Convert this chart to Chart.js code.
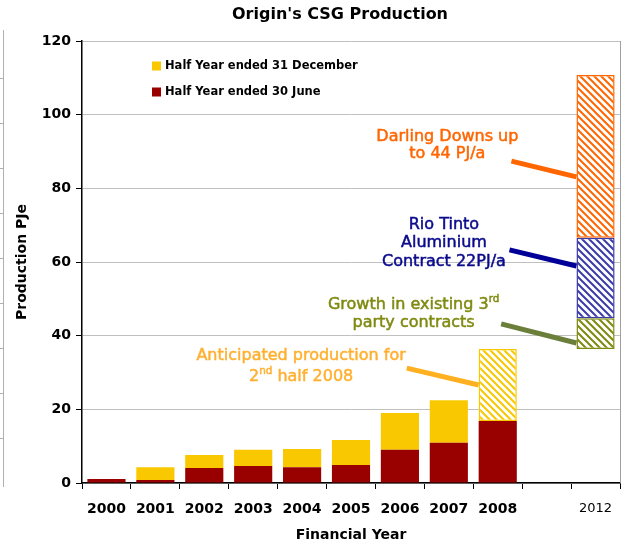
<!DOCTYPE html>
<html lang="en">
<head>
  <meta charset="UTF-8">
  <title>Origin's CSG Production</title>
  <script src="https://cdn.jsdelivr.net/npm/chart.js"></script>
  <style>
    html, body {
      margin: 0;
      padding: 0;
      background: #fff;
    }
    #wrap {
      width: 625px;
      height: 548px;
    }
  </style>
</head>
<body>
  <div id="wrap"><canvas id="miCanvas" width="625" height="548"></canvas></div>

  <script>
    // financial years (blank slot between 2008 and 2012)
    const years = ["2000", "2001", "2002", "2003", "2004", "2005", "2006", "2007", "2008", "", "2012"];

    // PJe per half year
    const juneHalf = [1.1, 0.8, 4.1, 4.6, 4.3, 4.9, 9.0, 10.9, 16.8, null, null];
    const decHalf = [0, 3.5, 3.5, 4.4, 4.9, 6.8, 10.0, 11.6, null, null, null];
    const decForecast = [null, null, null, null, null, null, null, null, 19.6, null, null];

    // 2012 outlook, stacked on top of the 2008 level
    const base2012 = [null, null, null, null, null, null, null, null, null, null, 36.4];
    const thirdParty = [null, null, null, null, null, null, null, null, null, null, 8.3];
    const rioTinto = [null, null, null, null, null, null, null, null, null, null, 21.9];
    const darlingDowns = [null, null, null, null, null, null, null, null, null, null, 44.2];

    const yTicks = [0, 20, 40, 60, 80, 100, 120];

    const FONT = "'DejaVu Sans', sans-serif";

    // callouts: text centre and line ends in category / value units
    const notes = [
      {
        color: "#FF6600", lineColor: "#FF6600", x: 6.97, y: [94.0, 89.3],
        lines: [[{ t: "Darling Downs up" }], [{ t: "to 44 PJ/a" }]],
        from: [8.28, 87.4], to: [9.61, 83.1]
      },
      {
        color: "#0A0A8C", lineColor: "#000099", x: 6.9, y: [70.0, 65.2, 60.0],
        lines: [[{ t: "Rio Tinto" }], [{ t: "Aluminium" }], [{ t: "Contract 22PJ/a" }]],
        from: [8.24, 63.3], to: [9.61, 58.9]
      },
      {
        color: "#7F8A10", lineColor: "#6B7F3A", x: 6.28, y: [48.3, 43.4],
        lines: [[{ t: "Growth in existing 3" }, { t: "rd", sup: true }], [{ t: "party contracts" }]],
        from: [8.07, 43.2], to: [9.61, 38.0]
      },
      {
        color: "#FFB030", lineColor: "#FFB020", x: 3.98, y: [34.5, 28.8],
        lines: [[{ t: "Anticipated production for" }], [{ t: "2" }, { t: "nd", sup: true }, { t: " half 2008" }]],
        from: [6.14, 31.2], to: [7.61, 26.6]
      }
    ];

    function hatch(color) {
      const c = document.createElement("canvas");
      c.width = 7;
      c.height = 7;
      const g = c.getContext("2d");
      g.fillStyle = "#fff";
      g.fillRect(0, 0, 7, 7);
      g.strokeStyle = color;
      g.lineWidth = 2;
      g.beginPath();
      for (const k of [-7, 0, 7]) {
        g.moveTo(k - 1, -1);
        g.lineTo(k + 8, 8);
      }
      g.stroke();
      return g.createPattern(c, "repeat");
    }

    function drawRich(ctx, parts, cx, cy, size, color) {
      const f = p => (p.sup ? size * 0.65 : size) + "px " + FONT;
      let w = 0;
      parts.forEach(p => {
        ctx.font = f(p);
        w += ctx.measureText(p.t).width;
      });
      let x = cx - w / 2;
      ctx.fillStyle = color;
      ctx.strokeStyle = color;
      ctx.lineWidth = 0.5;
      ctx.textAlign = "left";
      ctx.textBaseline = "middle";
      parts.forEach(p => {
        ctx.font = f(p);
        const ty = p.sup ? cy - size * 0.38 : cy;
        ctx.fillText(p.t, x, ty);
        ctx.strokeText(p.t, x, ty);
        x += ctx.measureText(p.t).width;
      });
    }

    const extras = {
      id: "extras",
      afterDatasetsDraw(chart) {
        const { ctx, chartArea: a, scales } = chart;
        const xs = scales.x, ys = scales.y;
        const px = v => xs.getPixelForValue(0) + v * (xs.getPixelForValue(1) - xs.getPixelForValue(0));
        ctx.save();

        // plot frame on the right
        ctx.strokeStyle = "#a0a0a0";
        ctx.lineWidth = 1;
        ctx.beginPath();
        ctx.moveTo(a.right + 0.5, a.top);
        ctx.lineTo(a.right + 0.5, a.bottom);
        ctx.stroke();

        // leftover edge of the neighbouring slide chart
        ctx.strokeStyle = "#b0b0b0";
        ctx.beginPath();
        ctx.moveTo(3.5, 30);
        ctx.lineTo(3.5, a.bottom + 4);
        for (let y = 78; y < a.bottom; y += 45) {
          ctx.moveTo(0, y + 0.5);
          ctx.lineTo(3.5, y + 0.5);
        }
        ctx.stroke();

        // title
        ctx.fillStyle = "#000";
        ctx.font = "bold 16px " + FONT;
        ctx.textAlign = "center";
        ctx.textBaseline = "middle";
        ctx.fillText("Origin's CSG Production", 340, 15);

        // legend
        const legend = [
          { label: "Half Year ended 31 December", color: "#F9C800" },
          { label: "Half Year ended 30 June", color: "#990000" }
        ];
        legend.forEach((it, i) => {
          const ly = a.top + 25 + i * 26;
          ctx.fillStyle = it.color;
          ctx.fillRect(a.left + 70, ly - 4.5, 9, 9);
          ctx.fillStyle = "#000";
          ctx.font = "bold 11.5px " + FONT;
          ctx.textAlign = "left";
          ctx.fillText(it.label, a.left + 83, ly);
        });

        // callouts
        notes.forEach(n => {
          ctx.strokeStyle = n.lineColor;
          ctx.lineWidth = 5;
          ctx.lineCap = "butt";
          ctx.beginPath();
          ctx.moveTo(px(n.from[0]), ys.getPixelForValue(n.from[1]));
          ctx.lineTo(px(n.to[0]), ys.getPixelForValue(n.to[1]));
          ctx.stroke();
          n.lines.forEach((parts, i) => {
            drawRich(ctx, parts, px(n.x), ys.getPixelForValue(n.y[i]), 16, n.color);
          });
        });
        ctx.restore();
      }
    };

    const hatched = (label, data, color) => ({
      label: label,
      data: data,
      backgroundColor: hatch(color),
      borderColor: color,
      borderWidth: 1.5,
      borderSkipped: false
    });

    const canvas = document.getElementById("miCanvas");
    window.miCanva = new Chart(canvas.getContext("2d"), {
      type: "bar",
      data: {
        labels: years,
        datasets: [
          { label: "Half Year ended 30 June", data: juneHalf, backgroundColor: "#990000" },
          { label: "Half Year ended 31 December", data: decHalf, backgroundColor: "#F9C800" },
          hatched("Anticipated 2nd half 2008", decForecast, "#F9C800"),
          { label: "base", data: base2012, backgroundColor: "rgba(0,0,0,0)" },
          hatched("Growth in existing 3rd party contracts", thirdParty, "#7F8A10"),
          hatched("Rio Tinto Aluminium", rioTinto, "#3C3CA8"),
          hatched("Darling Downs", darlingDowns, "#FF6600")
        ]
      },
      options: {
        responsive: false,
        animation: false,
        barPercentage: 0.78,
        categoryPercentage: 1,
        layout: { padding: { top: 41, right: 5, left: 0, bottom: 0 } },
        scales: {
          x: {
            stacked: true,
            grid: { offset: true, drawOnChartArea: false, color: "#000", tickLength: 6 },
            border: { color: "#000", width: 1.5 },
            ticks: {
              color: "#000",
              padding: 12,
              maxRotation: 0,
              autoSkip: false,
              font: c => c.index === 10 ? { family: FONT, size: 13, weight: "normal" } : { family: FONT, size: 14, weight: "bold" }
            },
            title: {
              display: true,
              text: "Financial Year",
              color: "#000",
              font: { family: FONT, size: 14, weight: "bold" },
              padding: { top: 9 }
            },
            afterFit: s => { s.height = 65; }
          },
          y: {
            stacked: true,
            min: 0,
            max: 120,
            afterBuildTicks: s => { s.ticks = yTicks.map(v => ({ value: v })); },
            grid: { color: "#c0c0c0", tickColor: "#000", tickLength: 6 },
            border: { color: "#000", width: 1.5 },
            ticks: {
              color: "#000",
              padding: 5,
              font: { family: FONT, size: 14, weight: "bold" }
            },
            title: {
              display: true,
              text: "Production PJe",
              color: "#000",
              font: { family: FONT, size: 14, weight: "bold" },
              padding: { top: 14, bottom: 4 }
            },
            afterFit: s => { s.width = 82; }
          }
        },
        plugins: {
          legend: { display: false },
          title: { display: false },
          tooltip: { enabled: false }
        }
      },
      plugins: [extras]
    });
  </script>
</body>
</html>
